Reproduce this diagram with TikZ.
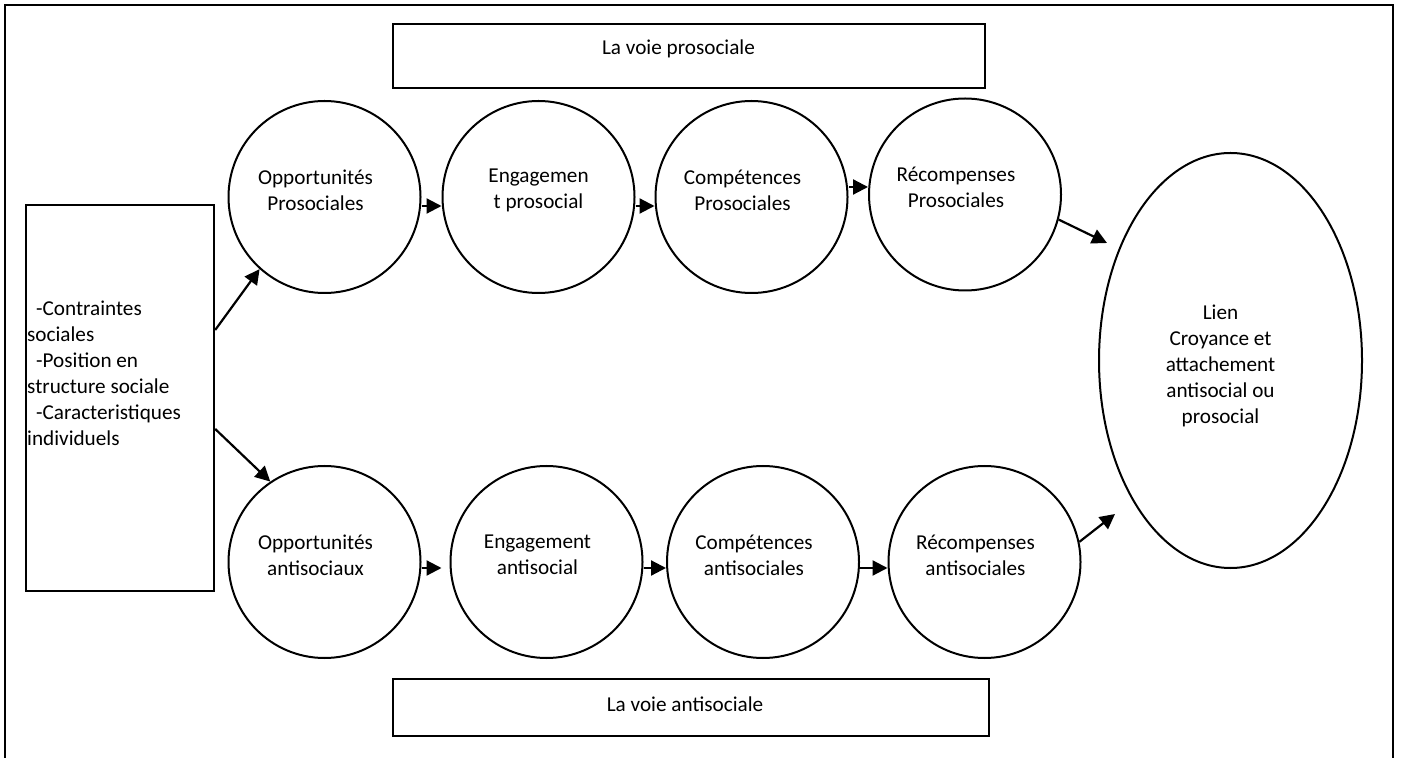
\documentclass[tikz,border=0pt]{standalone}
\usepackage{fontspec}
\setmainfont{Carlito}
\usetikzlibrary{shapes.geometric, arrows.meta}
\tikzset{
  police/.style={
    font=\fontsize{10.6}{13}\selectfont
  },
  texte/.style={
    police, align=center,
    xshift=-4.5pt, yshift=3.5pt
  },
  bulle/.style={
    circle, draw=black, line width=1pt,
    minimum size=96pt, inner sep=0pt
  },
  cadre/.style={
    rectangle, draw=black, line width=1.2pt, inner sep=0pt
  },
  fleche/.style={
    -{Triangle[length=7.5pt, width=7.5pt]}, line width=1.1pt
  }
}

\begin{document}
\begin{tikzpicture}[x=0.5pt, y=-0.5pt]
  \useasboundingbox (0,0) rectangle (1401,758);
  \draw[line width=1.1pt] (5,5) rectangle (1393,790);

  \node[cadre, minimum width=296pt, minimum height=32pt, label={[texte, xshift=-0.75pt]center:La voie prosociale}] (voie-pro) at (689,56) {};
  \node[cadre, minimum width=298pt, minimum height=28.5pt, label={[texte, xshift=1.5pt, yshift=-1.75pt]center:La voie antisociale}] (voie-anti) at (691,707.5) {};
  \node[cadre, minimum width=94pt, minimum height=193pt] (facteurs) at (120,398) {};
  \node[police, align=left, anchor=west, inner sep=0pt] (facteurs-txt) at ([xshift=1pt, yshift=12.5pt]facteurs.west)
    {\hspace*{4.5pt}-Contraintes\\sociales\\\hspace*{4.5pt}-Position en\\structure sociale\\\hspace*{4.5pt}-Caracteristiques\\individuels};

  % voie prosociale
  \node[bulle, label={[texte]center:Opportunités\\Prosociales}] (opp-pro) at (324.5,197) {};
  \node[bulle, label={[texte, xshift=4.5pt]center:Engagemen\\t prosocial}] (eng-pro) at (538.5,197) {};
  \node[bulle, label={[texte]center:Compétences\\Prosociales}] (comp-pro) at (751.5,197) {};
  \node[bulle, label={[texte]center:Récompenses\\Prosociales}] (rec-pro) at (965,194.5) {};

  % voie antisociale
  \node[bulle, label={[texte]center:Opportunités\\antisociaux}] (opp-anti) at (324.5,562) {};
  \node[bulle, label={[texte]center:Engagement\\antisocial}] (eng-anti) at (546.5,562) {};
  \node[bulle, label={[texte]center:Compétences\\antisociales}] (comp-anti) at (763,562) {};
  \node[bulle, label={[texte]center:Récompenses\\antisociales}] (rec-anti) at (984.5,562) {};

  \node[ellipse, draw=black, line width=1pt, minimum width=131.5pt, minimum height=207.5pt, inner sep=0pt,
    label={[texte, xshift=-0.5pt, yshift=-6.25pt]center:Lien\\Croyance et\\attachement\\antisocial ou\\prosocial}] (lien) at (1230.5,360.5) {};
  \coordinate (lien-haut) at (1107,243);
  \coordinate (lien-bas) at (1115,514);

  \draw[fleche] ([yshift=34pt]facteurs.east) -- (opp-pro.228);
  \draw[fleche] ([yshift=-15.5pt]facteurs.east) -- (opp-anti.124);

  \draw[fleche] ([yshift=-4.5pt]opp-pro.east) -- ([yshift=-4.5pt]eng-pro.west);
  \draw[fleche] ([yshift=-4.5pt]eng-pro.east) -- ([yshift=-4.5pt]comp-pro.west);
  \draw[fleche] ([yshift=5pt]comp-pro.east) -- ([yshift=3.75pt]rec-pro.west);
  \draw[fleche] (rec-pro.-15) -- (lien-haut);

  \draw[fleche, shorten >=4pt] ([yshift=-3pt]opp-anti.east) -- ([yshift=-3pt]eng-anti.west);
  \draw[fleche] ([yshift=-3pt]eng-anti.east) -- ([yshift=-3pt]comp-anti.west);
  \draw[fleche] ([yshift=-3pt]comp-anti.east) -- ([yshift=-3pt]rec-anti.west);
  \draw[fleche] (rec-anti.12) -- (lien-bas);
\end{tikzpicture}
\end{document}
